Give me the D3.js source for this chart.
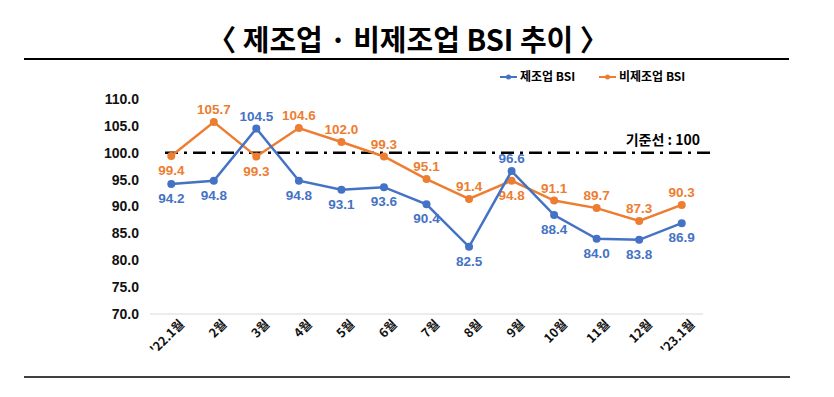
<!DOCTYPE html>
<html>
<head>
<meta charset="utf-8">
<script src="https://cdn.jsdelivr.net/npm/d3@7"></script>
<style>
  body { margin: 0; background: #fff; }
  text { font-family: "Noto Sans CJK KR", "Noto Sans", sans-serif; }
</style>
</head>
<body>
<div id="canvas"></div>
<script>
// 월 라벨
let months = ["'22.1월", "2월", "3월", "4월", "5월", "6월", "7월", "8월", "9월", "10월", "11월", "12월", "'23.1월"]
// 제조업 BSI
let mfg = [94.2, 94.8, 104.5, 94.8, 93.1, 93.6, 90.4, 82.5, 96.6, 88.4, 84.0, 83.8, 86.9]
// 비제조업 BSI
let nonMfg = [99.4, 105.7, 99.3, 104.6, 102.0, 99.3, 95.1, 91.4, 94.8, 91.1, 89.7, 87.3, 90.3]
let yTicks = [70, 75, 80, 85, 90, 95, 100, 105, 110]
let baseline = 100
// 라벨 위(-1)/아래(1)
let mfgSide = [1, 1, -1, 1, 1, 1, 1, 1, -1, 1, 1, 1, 1]
let nonSide = [1, -1, 1, -1, -1, -1, -1, -1, 1, -1, -1, -1, -1]

let blue = '#4472C4'
let orange = '#ED7D31'

let svg = d3.select('#canvas').append('svg')
    .attr('width', 834).attr('height', 397)

// 제목
svg.append('text')
    .attr('x', 408).attr('y', 51)
    .attr('text-anchor', 'middle')
    .style('font-size', '29px').style('font-weight', 'bold')
    .text('〈 제조업 · 비제조업 BSI 추이 〉')

svg.append('line').attr('x1', 24).attr('x2', 789).attr('y1', 59).attr('y2', 59)
    .style('stroke', '#000').style('stroke-width', 2)
svg.append('line').attr('x1', 24).attr('x2', 790).attr('y1', 377).attr('y2', 377)
    .style('stroke', '#000').style('stroke-width', 1.5)

let xScale = d3.scalePoint()
    .domain(months)
    .range([150, 703])
    .padding(0.5)

let yScale = d3.scaleLinear()
    .domain([70, 110])
    .range([314, 99])

// 70 기준 격자선
svg.append('line')
    .attr('x1', 150).attr('x2', 703)
    .attr('y1', yScale(70)).attr('y2', yScale(70))
    .style('stroke', '#e6e6e6').style('stroke-width', 1.5)

// y축
let yAxis = d3.axisLeft(yScale).tickValues(yTicks).tickFormat(d3.format('.1f')).tickSize(0).tickPadding(0)
let yg = svg.append('g').attr('transform', 'translate(139, 0)').call(yAxis)
yg.select('.domain').remove()
yg.selectAll('text').style('font-size', '14px').style('font-weight', 'bold').style('fill', '#111')
    .style('font-family', '"Liberation Sans", Arial, sans-serif')

// x축
let xAxis = d3.axisBottom(xScale).tickSize(0).tickPadding(0)
let xg = svg.append('g').attr('transform', 'translate(0, 314)').call(xAxis)
xg.select('.domain').remove()
xg.selectAll('text')
    .attr('text-anchor', 'end')
    .attr('transform', 'translate(7, 5) rotate(-45)')
    .attr('dy', '0.7em')
    .style('font-size', '12.5px').style('font-weight', 'bold').style('fill', '#111')

// 기준선
svg.append('line')
    .attr('x1', 165).attr('x2', 713)
    .attr('y1', yScale(baseline)).attr('y2', yScale(baseline))
    .style('stroke', '#000').style('stroke-width', 2.5)
    .style('stroke-dasharray', '13,6,3,6')
svg.append('text')
    .attr('x', 700).attr('y', yScale(baseline) - 8)
    .attr('text-anchor', 'end')
    .style('font-size', '14px').style('font-weight', 'bold')
    .text('기준선 : ' + baseline)

let line = d3.line().x((d, i) => xScale(months[i])).y(d => yScale(d))

function drawSeries(values, color, sides) {
    svg.append('path').datum(values)
        .attr('d', line)
        .style('fill', 'none').style('stroke', color).style('stroke-width', 2.5)
    svg.selectAll(null).data(values).enter().append('circle')
        .attr('cx', (d, i) => xScale(months[i]))
        .attr('cy', d => yScale(d))
        .attr('r', 4)
        .style('fill', color)
    svg.selectAll(null).data(values).enter().append('text')
        .attr('x', (d, i) => xScale(months[i]))
        .attr('y', (d, i) => yScale(d) + (sides[i] > 0 ? 19 : -8))
        .attr('text-anchor', 'middle')
        .style('font-size', '13.5px').style('font-weight', 'bold').style('fill', color)
        .style('font-family', '"Liberation Sans", Arial, sans-serif')
        .text(d => d.toFixed(1))
}
drawSeries(nonMfg, orange, nonSide)
drawSeries(mfg, blue, mfgSide)

// 범례
let legend = [['제조업 BSI', blue, 500], ['비제조업 BSI', orange, 599]]
legend.forEach(l => {
    let g = svg.append('g').attr('transform', 'translate(' + l[2] + ', 77)')
    g.append('line').attr('x1', 0).attr('x2', 17).style('stroke', l[1]).style('stroke-width', 2)
    g.append('circle').attr('cx', 8.5).attr('r', 2.5).style('fill', l[1])
    g.append('text').attr('x', 20).attr('dy', '0.35em')
        .style('font-size', '12px').style('font-weight', 'bold')
        .text(l[0])
})
</script>
</body>
</html>
